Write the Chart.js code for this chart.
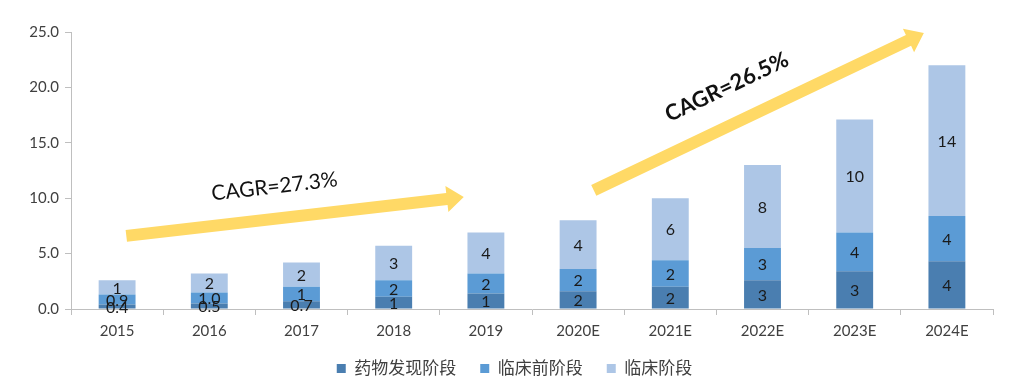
<!DOCTYPE html>
<html>
<head>
<meta charset="utf-8">
<script src="https://cdn.jsdelivr.net/npm/chart.js@4"></script>
<style>
  html, body { margin: 0; padding: 0; background: #fff; }
  #wrap { width: 1029px; height: 390px; }
</style>
</head>
<body>
<div id="wrap"><canvas id="chart" width="1029" height="390"></canvas></div>
<script>
const years = ['2015', '2016', '2017', '2018', '2019', '2020E', '2021E', '2022E', '2023E', '2024E'];
const discovery = [0.4, 0.5, 0.7, 1.1, 1.4, 1.6, 2.0, 2.6, 3.4, 4.3];
const preclinical = [0.9, 1.0, 1.3, 1.5, 1.8, 2.0, 2.4, 2.9, 3.5, 4.1];
const clinical = [1.3, 1.7, 2.2, 3.1, 3.7, 4.4, 5.6, 7.5, 10.2, 13.6];
const discoveryLabels = ['0.4', '0.5', '0.7', '1', '1', '2', '2', '3', '3', '4'];
const preclinicalLabels = ['0.9', '1.0', '1', '2', '2', '2', '2', '3', '4', '4'];
const clinicalLabels = ['1', '2', '2', '3', '4', '4', '6', '8', '10', '14'];
const yTicks = [0, 5, 10, 15, 20, 25];

const FONT = 'Lato, "Noto Sans CJK SC", sans-serif';

// arrows: [startIndex, startValue, endIndex, endValue, text, bold]
const arrows = [
  [0.1, 6.6, 3.76, 10.1, 'CAGR=27.3%', false],
  [5.17, 10.7, 8.75, 24.9, 'CAGR=26.5%', true]
];

const labelPlugin = {
  id: 'segLabels',
  afterDatasetsDraw(chart) {
    const ctx = chart.ctx;
    ctx.save();
    ctx.fillStyle = '#1a1a1a';
    ctx.font = '16px ' + FONT;
    ctx.textAlign = 'center';
    ctx.textBaseline = 'middle';
    chart.data.datasets.forEach((ds, i) => {
      chart.getDatasetMeta(i).data.forEach((bar, j) => {
        ctx.fillText(ds.segLabels[j], bar.x, (bar.y + bar.base) / 2 + 1);
      });
    });
    ctx.restore();
  }
};

const arrowPlugin = {
  id: 'cagrArrows',
  afterDatasetsDraw(chart) {
    const ctx = chart.ctx;
    const x = chart.scales.x, y = chart.scales.y;
    const step = x.getPixelForValue(1) - x.getPixelForValue(0);
    arrows.forEach(a => {
      const x0 = x.getPixelForValue(0) + a[0] * step, y0 = y.getPixelForValue(a[1]);
      const x1 = x.getPixelForValue(0) + a[2] * step, y1 = y.getPixelForValue(a[3]);
      const ang = Math.atan2(y1 - y0, x1 - x0);
      const len = Math.hypot(x1 - x0, y1 - y0);
      ctx.save();
      ctx.translate(x0, y0);
      ctx.rotate(ang);
      ctx.fillStyle = '#FFD966';
      ctx.beginPath();
      ctx.moveTo(0, -6);
      ctx.lineTo(len - 17, -6);
      ctx.lineTo(len - 17, -13);
      ctx.lineTo(len, 0);
      ctx.lineTo(len - 17, 13);
      ctx.lineTo(len - 17, 6);
      ctx.lineTo(0, 6);
      ctx.closePath();
      ctx.fill();
      ctx.fillStyle = '#111';
      ctx.font = (a[5] ? 'bold 22px ' : '21px ') + FONT;
      ctx.textAlign = 'center';
      ctx.textBaseline = 'middle';
      ctx.fillText(a[4], len * 0.45, a[5] ? -36 : -32);
      ctx.restore();
    });
  }
};

// nudge the legend so it sits centred under the whole picture
const legendShift = {
  id: 'legendShift',
  afterLayout(chart) {
    const lg = chart.legend;
    lg.left += 36;
    lg.top -= 5;
    lg.bottom -= 5;
  }
};

new Chart(document.getElementById('chart'), {
  type: 'bar',
  data: {
    labels: years,
    datasets: [
      { label: '药物发现阶段', data: discovery, segLabels: discoveryLabels, backgroundColor: '#4A7EB0' },
      { label: '临床前阶段', data: preclinical, segLabels: preclinicalLabels, backgroundColor: '#5B9BD5' },
      { label: '临床阶段', data: clinical, segLabels: clinicalLabels, backgroundColor: '#ADC6E6' }
    ]
  },
  options: {
    responsive: false,
    animation: false,
    barPercentage: 0.4,
    categoryPercentage: 1,
    layout: { padding: { top: 32, right: 36, bottom: -2, left: 0 } },
    plugins: {
      legend: {
        position: 'bottom',
        labels: {
          boxWidth: 9, boxHeight: 9, padding: 24,
          color: '#404040',
          font: { family: FONT, size: 17 }
        }
      },
      tooltip: { enabled: false }
    },
    scales: {
      x: {
        stacked: true,
        grid: { display: true, drawOnChartArea: false, offset: true, tickLength: 6, color: '#BFBFBF' },
        border: { color: '#BFBFBF' },
        ticks: { color: '#404040', font: { family: FONT, size: 15 }, padding: 7 },
        afterFit(s) { s.height = 32; }
      },
      y: {
        stacked: true,
        min: 0, max: 25,
        afterBuildTicks(s) { s.ticks = yTicks.map(v => ({ value: v })); },
        grid: { display: true, drawOnChartArea: false, tickLength: 6, color: '#BFBFBF' },
        border: { color: '#BFBFBF' },
        ticks: { color: '#404040', font: { family: FONT, size: 15 }, padding: 6, callback: v => v.toFixed(1) },
        afterFit(s) { s.width = 71; }
      }
    }
  },
  plugins: [labelPlugin, arrowPlugin, legendShift]
});
</script>
</body>
</html>
